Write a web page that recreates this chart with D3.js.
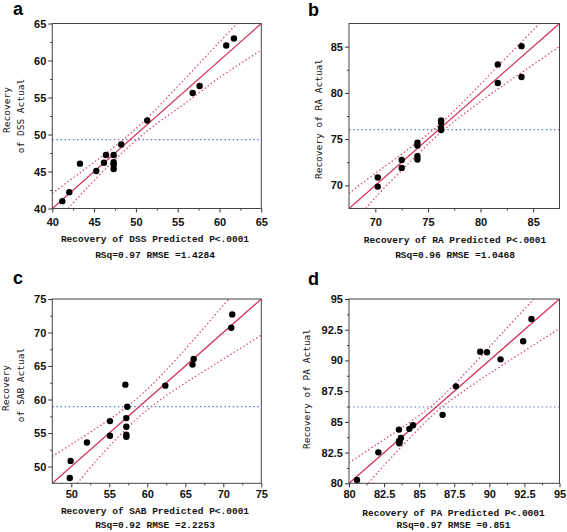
<!DOCTYPE html>
<html><head><meta charset="utf-8">
<script src="https://cdn.jsdelivr.net/npm/d3@7/dist/d3.min.js"></script>
<style>body{margin:0;background:#fff}svg{display:block}</style>
</head><body>
<svg id="chart" width="567" height="532"></svg>
<script>
// ---------- Panel a: DSS ----------
const dssPredicted = [41.2, 42.03, 43.31, 45.26, 46.18, 46.42, 47.34, 47.34, 47.34, 47.34, 48.25, 51.36, 56.79, 57.62, 60.81, 61.73];
const dssActual    = [40.99, 42.21, 46.06, 45.06, 46.19, 47.23, 47.23, 46.24, 45.88, 45.34, 48.64, 51.90, 55.61, 56.56, 62.02, 62.97];
const dssUpper = [[40,42.05],[44,45.4],[47,47.95],[49.4,50.2],[52,52.95],[56,57.7],[60,62.5],[62.1,65]];
const dssLower = [[41.9,40],[44,42.6],[47,46.05],[49.4,48.6],[52,51.05],[56,54.3],[60,57.7],[65,61.4]];
const dssMean = 49.3;
const dssTicks = [40,45,50,55,60,65];
const dssMinor = [42.5,47.5,52.5,57.5,62.5];

// ---------- Panel b: RA ----------
const raPredicted = [70.23,70.23,72.51,72.51,74.0,74.0,74.0,74.0,76.25,76.25,76.25,76.25,81.64,81.64,83.89,83.89];
const raActual    = [70.85,69.87,72.75,71.89,74.62,74.3,73.15,72.8,77.03,76.78,76.2,75.99,83.08,81.06,85.05,81.71];
const raUpper = [[67.5,69.15],[70,71.3],[73,73.8],[76.07,76.55],[79,79.77],[82,83.3],[85.6,87.5]];
const raLower = [[69.1,67.5],[70,68.7],[73,72.2],[76.07,75.57],[79,78.23],[82,80.7],[87.5,85.0]];
const raMean = 76.03;
const raTicks = [70,75,80,85];
const raMinor = [72.5,77.5,82.5];

// ---------- Panel c: SAB ----------
const sabPredicted = [49.91,49.8,52.06,55.09,55.09,57.11,57.37,57.24,57.24,57.24,57.24,62.37,65.95,66.1,71.05,71.18];
const sabActual    = [50.84,48.3,53.59,56.78,54.59,62.22,58.93,57.23,55.93,54.74,54.44,62.07,65.21,66.06,70.70,72.7];
const sabUpper = [[47.5,51.5],[50,53.3],[53,55.5],[56,57.8],[59,60.5],[62,63.8],[66,68.8],[70.7,75]];
const sabLower = [[50.8,47.5],[53,50.5],[56,54.2],[59,57.5],[62,60.2],[66,63.2],[70,66.05],[75,69.6]];
const sabMean = 58.93;
const sabTicks = [50,55,60,65,70,75];
const sabMinor = [52.5,57.5,62.5,67.5,72.5];

// ---------- Panel d: PA ----------
const paPredicted = [80.57,82.09,83.56,83.56,83.58,83.6,83.7,84.3,84.56,86.67,87.62,89.35,89.83,90.8,92.41,93.0];
const paActual    = [80.27,82.52,84.37,83.42,83.25,83.35,83.69,84.43,84.73,85.57,87.89,90.71,90.66,90.09,91.56,93.37];
const paUpper = [[80,81.68],[82,83.18],[84,84.71],[86.21,86.61],[88.5,89.23],[91,92.33],[93.17,95]];
const paLower = [[81.4,80],[82,80.82],[84,83.29],[86.21,85.81],[88.5,87.77],[91,89.67],[95,92.6]];
const paMean = 86.21;
const paTicks = [80,82.5,85,87.5,90,92.5,95];
const paMinor = [81.25,83.75,86.25,88.75,91.25,93.75];

const panels = [
  {key:"a", domain:[40,65], pred:dssPredicted, act:dssActual, up:dssUpper, lo:dssLower, mean:dssMean, ticks:dssTicks, minor:dssMinor,
   xTitle:"Recovery of DSS Predicted P<.0001", stats:"RSq=0.97 RMSE =1.4284", yTitle:["Recovery","of DSS Actual"],
   left:52.3, right:261.3, top:23.5, bottom:208.5, letterX:13, letterY:15,
   yTitlePos:[[6.5,110],[21,116]], xTitleY:239, statsY:254.5, titleCx:155, xPad:5.5},
  {key:"b", domain:[67.5,87.5], pred:raPredicted, act:raActual, up:raUpper, lo:raLower, mean:raMean, ticks:raTicks, minor:raMinor,
   xTitle:"Recovery of RA Predicted P<.0001", stats:"RSq=0.96 RMSE =1.0468", yTitle:["Recovery of RA Actual"],
   left:349, right:559.5, top:23.5, bottom:208.5, letterX:308, letterY:16,
   yTitlePos:[[319,119]], xTitleY:240, statsY:255, titleCx:455, xPad:6},
  {key:"c", domain:[47.5,75], pred:sabPredicted, act:sabActual, up:sabUpper, lo:sabLower, mean:sabMean, ticks:sabTicks, minor:sabMinor,
   xTitle:"Recovery of SAB Predicted P<.0001", stats:"RSq=0.92 RMSE =2.2253", yTitle:["Recovery","of SAB Actual"],
   left:52.3, right:261.3, top:299, bottom:483.3, letterX:13, letterY:284,
   yTitlePos:[[5.5,388],[21,385]], xTitleY:511, statsY:524.3, titleCx:155, xPad:3},
  {key:"d", domain:[80,95], pred:paPredicted, act:paActual, up:paUpper, lo:paLower, mean:paMean, ticks:paTicks, minor:paMinor,
   xTitle:"Recovery of PA Predicted P<.0001", stats:"RSq=0.97 RMSE =0.851", yTitle:["Recovery of PA Actual"],
   left:349, right:559.5, top:299, bottom:483.3, letterX:308, letterY:285,
   yTitlePos:[[307,389]], xTitleY:512.5, statsY:524.5, titleCx:453.5, xPad:3}
];

const svg = d3.select("#chart");

panels.forEach(p => {
  const x = d3.scaleLinear().domain(p.domain).range([p.left, p.right]);
  const y = d3.scaleLinear().domain(p.domain).range([p.bottom, p.top]);
  const g = svg.append("g");

  const clipId = "clip-" + p.key;
  svg.append("clipPath").attr("id", clipId).append("rect")
    .attr("x", p.left).attr("y", p.top).attr("width", p.right - p.left).attr("height", p.bottom - p.top);
  const plot = g.append("g").attr("clip-path", `url(#${clipId})`);

  // mean line
  plot.append("line")
    .attr("x1", x(p.domain[0])).attr("x2", x(p.domain[1]))
    .attr("y1", y(p.mean)).attr("y2", y(p.mean))
    .attr("stroke", "#5a7ac8").attr("stroke-width", 1.2).attr("stroke-dasharray", "1.5,2.6");

  // confidence bands
  const band = d3.line().x(d => x(d[0])).y(d => y(d[1])).curve(d3.curveCatmullRom.alpha(0.5));
  [p.up, p.lo].forEach(b => {
    plot.append("path").attr("d", band(b)).attr("fill", "none")
      .attr("stroke", "#dc4468").attr("stroke-width", 1.3).attr("stroke-dasharray", "1.4,2.4");
  });

  // fit line
  plot.append("line")
    .attr("x1", x(p.domain[0])).attr("y1", y(p.domain[0]))
    .attr("x2", x(p.domain[1])).attr("y2", y(p.domain[1]))
    .attr("stroke", "#d42a4e").attr("stroke-width", 1.2);

  // points
  plot.selectAll("circle").data(p.pred.map((v, i) => [v, p.act[i]])).enter().append("circle")
    .attr("cx", d => x(d[0])).attr("cy", d => y(d[1])).attr("r", 3.2).attr("fill", "#000");

  // axes
  const fmt = d => String(d);
  const xAxis = g.append("g").attr("transform", `translate(0,${p.bottom})`)
    .call(d3.axisBottom(x).tickValues(p.ticks).tickSize(4).tickPadding(p.xPad).tickFormat(fmt));
  const xMinor = g.append("g").attr("transform", `translate(0,${p.bottom})`)
    .call(d3.axisBottom(x).tickValues(p.minor).tickSize(2).tickFormat(""));
  const yAxis = g.append("g").attr("transform", `translate(${p.left},0)`)
    .call(d3.axisLeft(y).tickValues(p.ticks).tickSize(4).tickPadding(2).tickFormat(fmt));
  const yMinor = g.append("g").attr("transform", `translate(${p.left},0)`)
    .call(d3.axisLeft(y).tickValues(p.minor).tickSize(2).tickFormat(""));
  [xAxis, xMinor, yAxis, yMinor].forEach(a => {
    a.select(".domain").remove();
    a.selectAll("line").attr("stroke", "#333");
    a.selectAll("text").attr("font-family", "'Liberation Sans', Arial, sans-serif")
      .attr("font-size", 11).attr("font-weight", "bold").attr("fill", "#111");
  });

  // frame
  g.append("rect").attr("x", p.left).attr("y", p.top)
    .attr("width", p.right - p.left).attr("height", p.bottom - p.top)
    .attr("fill", "none").attr("stroke", "#444").attr("stroke-width", 1);

  // x titles
  [[p.xTitle, p.xTitleY], [p.stats, p.statsY]].forEach(([t, ty]) => {
    g.append("text").attr("x", p.titleCx).attr("y", ty).attr("dy", "0.35em")
      .attr("text-anchor", "middle").attr("font-family", "'Liberation Mono', 'Courier New', monospace")
      .attr("font-size", 9.5).attr("font-weight", "bold").attr("fill", "#111").text(t);
  });

  // y titles
  p.yTitle.forEach((t, i) => {
    const [tx, ty] = p.yTitlePos[i];
    g.append("text").attr("transform", `translate(${tx},${ty}) rotate(-90)`).attr("dy", "0.35em")
      .attr("text-anchor", "middle").attr("font-family", "'DejaVu Sans Mono', monospace")
      .attr("font-size", 9.5).attr("fill", "#111").text(t);
  });

  // panel letter
  g.append("text").attr("x", p.letterX).attr("y", p.letterY)
    .attr("font-family", "'Liberation Sans', Arial, sans-serif").attr("font-weight", "bold")
    .attr("font-size", 18).attr("fill", "#000").text(p.key);
});
</script>
</body></html>
